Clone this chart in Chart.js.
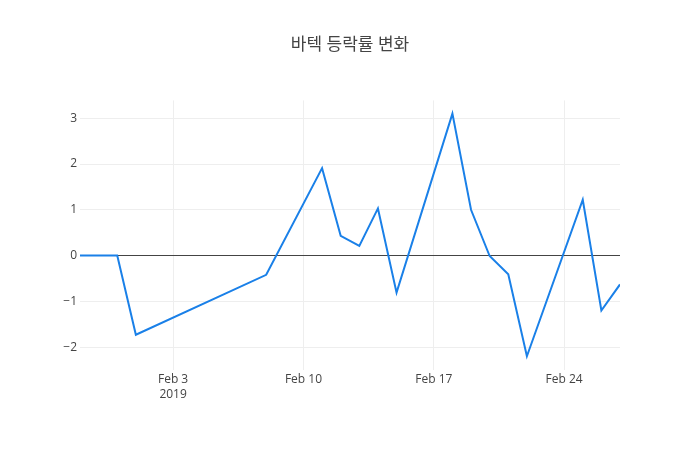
<!DOCTYPE html>
<html>
<head>
<meta charset="utf-8">
<script src="https://cdn.jsdelivr.net/npm/chart.js@4/dist/chart.umd.min.js"></script>
<style>
  html, body { margin: 0; padding: 0; background: #fff; }
  #wrap { width: 700px; height: 450px; position: relative; }
</style>
</head>
<body>
<div id="wrap"><canvas id="c"></canvas></div>
<script>
const dates = ['2019-01-29','2019-01-30','2019-01-31','2019-02-01','2019-02-08','2019-02-11','2019-02-12','2019-02-13','2019-02-14','2019-02-15','2019-02-18','2019-02-19','2019-02-20','2019-02-21','2019-02-22','2019-02-25','2019-02-26','2019-02-27'];
const changes = [0, 0, 0, -1.73, -0.42, 1.91, 0.43, 0.21, 1.03, -0.81, 3.10, 1.00, -0.01, -0.41, -2.20, 1.22, -1.20, -0.63];
const xTickDates = ['2019-02-03','2019-02-10','2019-02-17','2019-02-24'];
const xTickLabels = [['Feb 3','2019'], ['Feb 10'], ['Feb 17'], ['Feb 24']];
const yTickValues = [-2, -1, 0, 1, 2, 3];
const xRange = ['2019-01-29', '2019-02-27'];
const yRange = [-2.50, 3.39];
const titleText = '바텍 등락률 변화';

const dayNum = s => { const p = s.split('-').map(Number); return Date.UTC(p[0], p[1]-1, p[2]) / 86400000; };
const points = dates.map((d, i) => ({ x: dayNum(d), y: changes[i] }));
const xTicks = xTickDates.map(dayNum);

const FONT = '"Open Sans", "Noto Sans CJK KR", sans-serif';

new Chart(document.getElementById('c'), {
  type: 'line',
  data: {
    datasets: [{
      data: points,
      borderColor: '#1a80e8',
      borderWidth: 2,
      pointRadius: 0,
      tension: 0,
      fill: false
    }]
  },
  options: {
    responsive: true,
    maintainAspectRatio: false,
    animation: false,
    layout: { padding: 0 },
    plugins: {
      legend: { display: false },
      tooltip: { enabled: false },
      title: {
        display: true,
        text: titleText,
        color: '#444',
        font: { family: FONT, size: 17, weight: 'normal' },
        padding: { top: 35, bottom: 45 }
      }
    },
    scales: {
      x: {
        type: 'linear',
        min: dayNum(xRange[0]),
        max: dayNum(xRange[1]),
        afterBuildTicks: s => { s.ticks = xTicks.map(v => ({ value: v })); },
        afterFit: s => { s.height = 80; },
        ticks: {
          autoSkip: false,
          maxRotation: 0,
          padding: 2,
          color: '#444',
          font: { family: FONT, size: 12, lineHeight: 1.25 },
          callback: (v) => { const i = xTicks.indexOf(v); return i >= 0 ? xTickLabels[i] : ''; }
        },
        grid: { color: '#eee', lineWidth: 1, drawTicks: false },
        border: { display: false }
      },
      y: {
        type: 'linear',
        min: yRange[0],
        max: yRange[1],
        afterBuildTicks: s => { s.ticks = yTickValues.map(v => ({ value: v })); },
        afterFit: s => { s.width = 80; },
        ticks: {
          padding: 3,
          color: '#444',
          font: { family: FONT, size: 12 },
          callback: v => (v < 0 ? '\u2212' + Math.abs(v) : String(v))
        },
        grid: {
          color: c => (c.tick && c.tick.value === 0 ? '#444' : '#eee'),
          lineWidth: 1,
          drawTicks: false
        },
        border: { display: false }
      },
      yRight: {
        type: 'linear',
        position: 'right',
        min: yRange[0],
        max: yRange[1],
        afterFit: s => { s.width = 80; },
        ticks: { display: false },
        grid: { display: false, drawTicks: false },
        border: { display: false }
      }
    }
  }
});
</script>
</body>
</html>
